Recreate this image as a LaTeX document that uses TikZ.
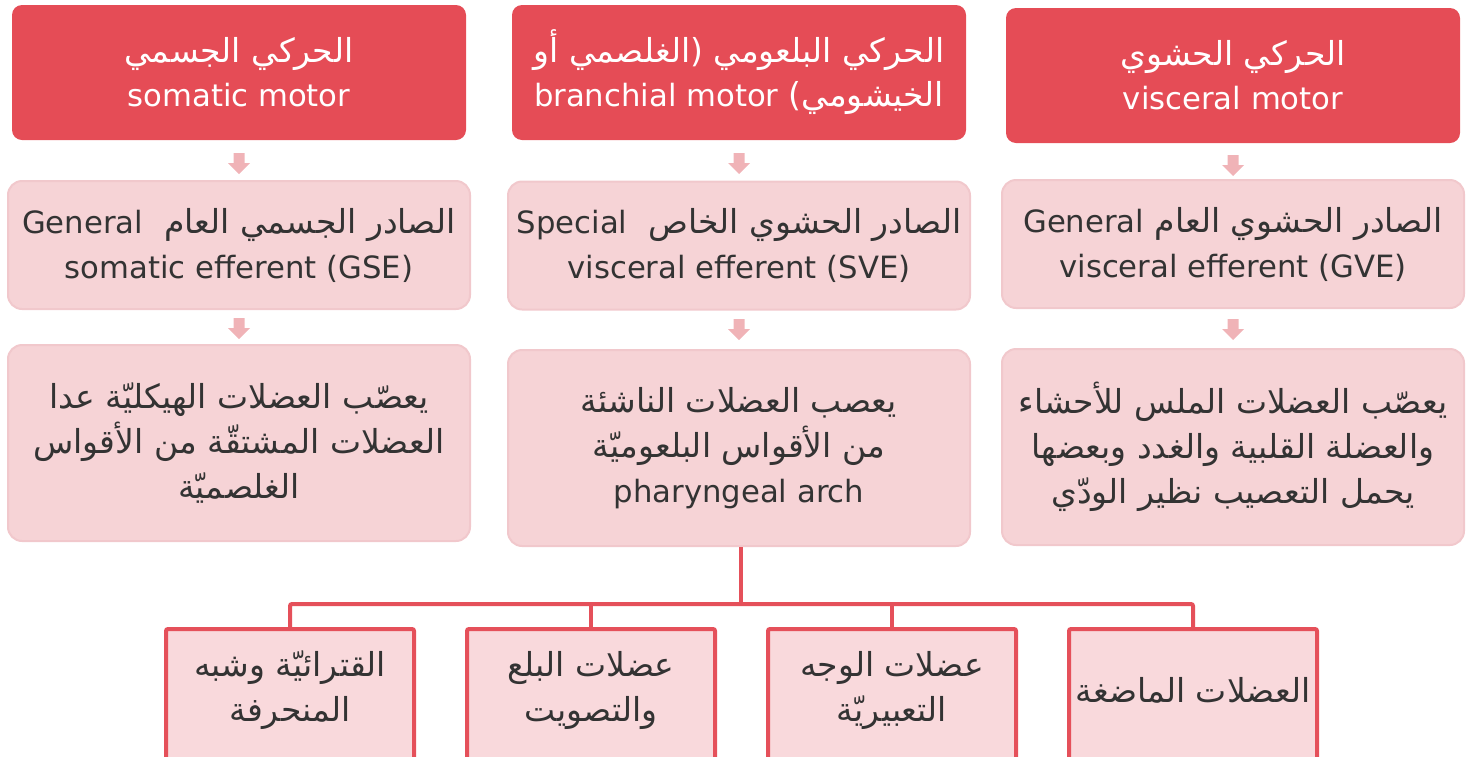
\documentclass[tikz,border=0pt]{standalone}
\usepackage{fontspec}
\usetikzlibrary{calc}
\TeXXeTstate=1
\setmainfont{DejaVu Sans}
\newfontfamily\arabicfont[Script=Arabic]{DejaVu Sans}
\newfontfamily\latinfont[Scale=0.93]{DejaVu Sans}
\newcommand\RL[1]{\beginR#1\endR}
\newcommand\LT[1]{\beginL{\latinfont #1}\endL}
\definecolor{hdred}{HTML}{E54C56}
\definecolor{midfill}{HTML}{F6D3D6}
\definecolor{midline}{HTML}{F1C8CC}
\definecolor{botfill}{HTML}{F9D9DC}
\definecolor{botline}{HTML}{E5505A}
\definecolor{arrowpink}{HTML}{F0B3B7}
\definecolor{darktext}{HTML}{333333}
\tikzset{
  header/.style={fill=hdred, draw=none, rounded corners=5pt, text=white,
    minimum width=227pt, minimum height=67.5pt, inner sep=0pt, align=center,
    font=\arabicfont\fontsize{16.5}{22}\selectfont},
  midbox/.style={fill=midfill, draw=midline, line width=1pt, rounded corners=7pt,
    text=darktext, minimum width=231pt, inner sep=0pt, align=center,
    font=\arabicfont\fontsize{16.5}{22.5}\selectfont},
  botbox/.style={fill=botfill, draw=botline, line width=2pt, rounded corners=1pt,
    minimum width=124pt, minimum height=68pt, inner sep=0pt},
  bottext/.style={text=darktext, align=center, inner sep=0pt,
    font=\arabicfont\fontsize{16.5}{22.5}\selectfont},
  conn/.style={draw=botline, line width=2pt, rounded corners=1pt},
  dnarrow/.pic={\fill[arrowpink] (-5.5,-10) -- (5.5,-10) -- (5.5,0) -- (11,0) -- (0,11)
     -- (-11,0) -- (-5.5,0) -- cycle;}
}
\begin{document}
\begin{tikzpicture}[x=0.5pt,y=-0.5pt]
\useasboundingbox (0,0) rectangle (1469,756);
% header row
\node[header] (h1) at (239,72.5) {\RL{الحركي الجسمي}\\\LT{somatic motor}};
\node[header] (h2) at (739,72.5) {\RL{الحركي البلعومي (الغلصمي أو}\\\RL{الخيشومي) \LT{branchial motor}}};
\node[header] (h3) at (1233,75.5) {\RL{الحركي الحشوي}\\\LT{visceral motor}};
% second row
\node[midbox, minimum height=64pt] (s1) at (239,245) {\RL{الصادر الجسمي العام\ \ \LT{General}}\\\LT{somatic efferent (GSE)}};
\node[midbox, minimum height=64pt] (s2) at (739,245.5) {\RL{الصادر الحشوي الخاص\ \ \LT{Special}}\\\LT{visceral efferent (SVE)}};
\node[midbox, minimum height=64pt] (s3) at (1233,244) {\RL{الصادر الحشوي العام \LT{General}}\\\LT{visceral efferent (GVE)}};
% third row
\node[midbox, minimum height=98pt] (d1) at (239,443) {\RL{يعصّب العضلات الهيكليّة عدا}\\\RL{العضلات المشتقّة من الأقواس}\\\RL{الغلصميّة}};
\node[midbox, minimum height=98pt] (d2) at (739,448) {\RL{يعصب العضلات الناشئة}\\\RL{من الأقواس البلعوميّة}\\\LT{pharyngeal arch}};
\node[midbox, minimum height=98pt] (d3) at (1233,447) {\RL{يعصّب العضلات الملس للأحشاء}\\\RL{والعضلة القلبية والغدد وبعضها}\\\RL{يحمل التعصيب نظير الودّي}};
% arrows between rows
\pic at (239,163) {dnarrow};
\pic at (739,163) {dnarrow};
\pic at (1233,165) {dnarrow};
\pic at (239,328) {dnarrow};
\pic at (739,329) {dnarrow};
\pic at (1233,329) {dnarrow};
% bottom boxes
\node[botbox] (b1) at (290,697) {};
\node[botbox] (b2) at (591,697) {};
\node[botbox] (b3) at (892,697) {};
\node[botbox] (b4) at (1193,697) {};
\node[bottext] (t1) at (290,690) {\RL{القترائيّة وشبه}\\\RL{المنحرفة}};
\node[bottext] (t2) at (591,690) {\RL{عضلات البلع}\\\RL{والتصويت}};
\node[bottext] (t3) at (892,690) {\RL{عضلات الوجه}\\\RL{التعبيريّة}};
\node[bottext] (t4) at (1193,690) {\RL{العضلات الماضغة}};
% connectors
\coordinate (j) at (741,604);
\draw[conn] (d2.south -| j) -- (j);
\draw[conn] (b1.north) |- (j) -| (b4.north);
\draw[conn] (b2.north) -- (b2.north |- j);
\draw[conn] (b3.north) -- (b3.north |- j);
\end{tikzpicture}
\end{document}
